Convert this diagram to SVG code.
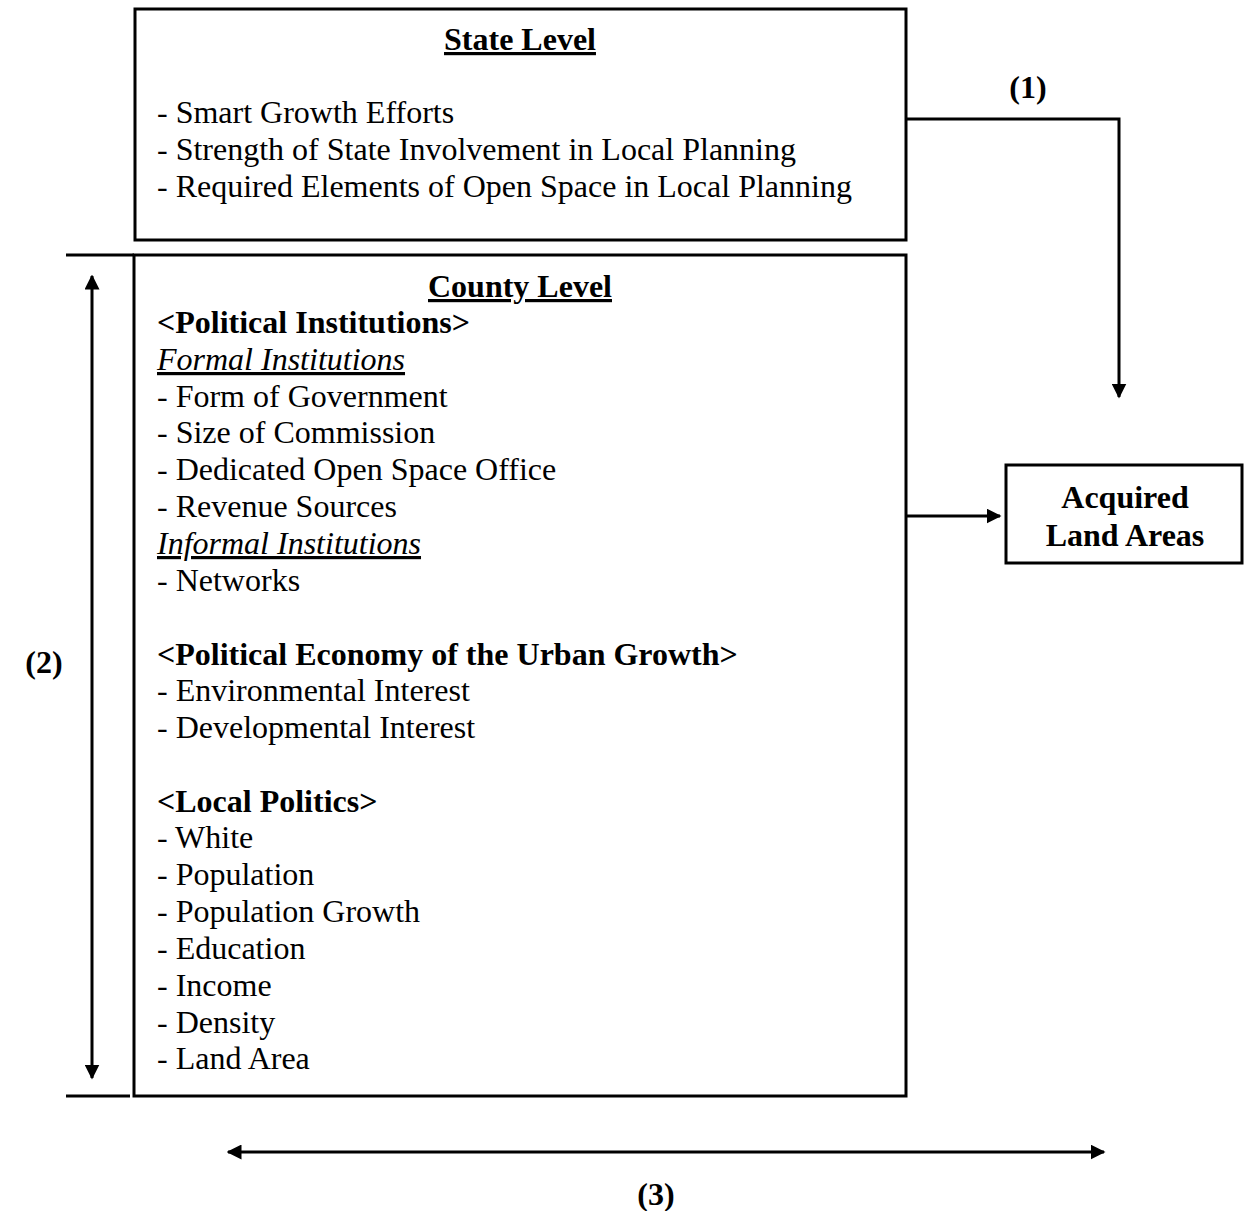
<svg xmlns="http://www.w3.org/2000/svg" width="1244" height="1211" viewBox="0 0 1244 1211">
<style>
text{font-family:"Liberation Serif","Times New Roman",serif;font-size:32px;fill:#000}
.b{font-weight:bold}
.u{text-decoration:underline}
.i{font-style:italic}
.c{text-anchor:middle}
.box{fill:#fff;stroke:#000;stroke-width:3}
.ln{fill:none;stroke:#000;stroke-width:3}
</style>
<defs>
<marker id="ah" viewBox="0 0 10 10" refX="9" refY="5" markerWidth="5" markerHeight="5" orient="auto-start-reverse" markerUnits="strokeWidth">
<path d="M0,0 L10,5 L0,10 z" fill="#000"/>
</marker>
</defs>
<g id="connectors">
<polyline class="ln" points="906,119 1119,119 1119,397" marker-end="url(#ah)"/>
<line class="ln" x1="906" y1="516" x2="1000" y2="516" marker-end="url(#ah)"/>
<line class="ln" x1="92" y1="276" x2="92" y2="1078" marker-start="url(#ah)" marker-end="url(#ah)"/>
<line class="ln" x1="228" y1="1152" x2="1104" y2="1152" marker-start="url(#ah)" marker-end="url(#ah)"/>
<line class="ln" x1="66" y1="255" x2="134" y2="255"/>
<line class="ln" x1="66" y1="1096" x2="130" y2="1096"/>
<text class="b c" x="1028" y="98">(1)</text>
<text class="b c" x="44" y="673">(2)</text>
<text class="b c" x="656" y="1205">(3)</text>
</g>
<g id="state">
<rect class="box" x="135" y="9" width="771" height="231"/>
<text class="b u c" x="520" y="50">State Level</text>
<text x="157" y="123">- Smart Growth Efforts</text>
<text x="157" y="160">- Strength of State Involvement in Local Planning</text>
<text x="157" y="197">- Required Elements of Open Space in Local Planning</text>
</g>
<g id="county">
<rect class="box" x="134" y="255" width="772" height="841"/>
<text class="b u c" x="520" y="297">County Level</text>
<text class="b" x="157" y="333">&lt;Political Institutions&gt;</text>
<text class="i u" x="157" y="370">Formal Institutions</text>
<text x="157" y="407">- Form of Government</text>
<text x="157" y="443">- Size of Commission</text>
<text x="157" y="480">- Dedicated Open Space Office</text>
<text x="157" y="517">- Revenue Sources</text>
<text class="i u" x="157" y="554">Informal Institutions</text>
<text x="157" y="591">- Networks</text>
<text class="b" x="157" y="665">&lt;Political Economy of the Urban Growth&gt;</text>
<text x="157" y="701">- Environmental Interest</text>
<text x="157" y="738">- Developmental Interest</text>
<text class="b" x="157" y="812">&lt;Local Politics&gt;</text>
<text x="157" y="848">- White</text>
<text x="157" y="885">- Population</text>
<text x="157" y="922">- Population Growth</text>
<text x="157" y="959">- Education</text>
<text x="157" y="996">- Income</text>
<text x="157" y="1033">- Density</text>
<text x="157" y="1069">- Land Area</text>
</g>
<g id="acquired">
<rect class="box" x="1006" y="465" width="236" height="98"/>
<text class="b c" x="1125" y="508">Acquired</text>
<text class="b c" x="1125" y="546">Land Areas</text>
</g>
</svg>
